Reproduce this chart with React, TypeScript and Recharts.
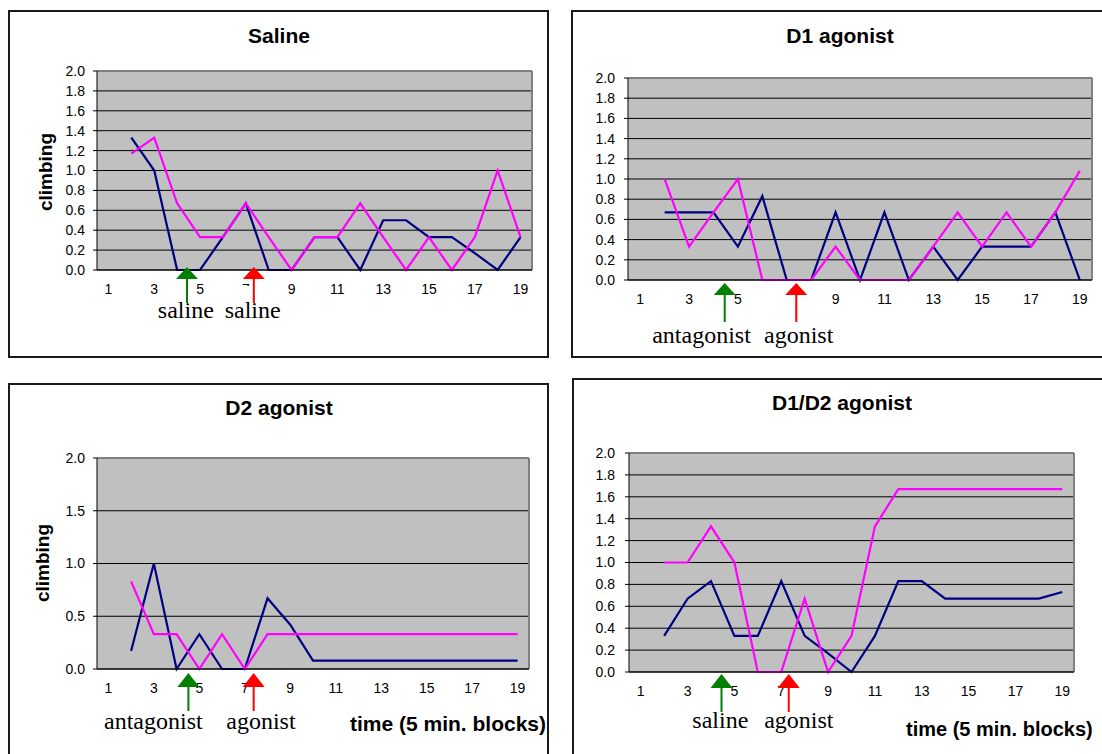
import React from "react";
import { CartesianGrid, Line, LineChart, ReferenceDot, ReferenceLine, XAxis, YAxis } from "recharts";

// time blocks (5 min.), the first block has no value
const blocks = [1, 2, 3, 4, 5, 6, 7, 8, 9, 10, 11, 12, 13, 14, 15, 16, 17, 18, 19];
const blockEdges = [0.5, 1.5, 2.5, 3.5, 4.5, 5.5, 6.5, 7.5, 8.5, 9.5, 10.5, 11.5, 12.5, 13.5, 14.5, 15.5, 16.5, 17.5, 18.5, 19.5];
const blockLabels = [1, 3, 5, 7, 9, 11, 13, 15, 17, 19];
const fineTicks = [0, 0.2, 0.4, 0.6, 0.8, 1.0, 1.2, 1.4, 1.6, 1.8, 2.0];
const coarseTicks = [0, 0.5, 1.0, 1.5, 2.0];

const salineNavy = [null, 1.33, 1.0, 0, 0, 0.33, 0.67, 0, 0, 0.33, 0.33, 0, 0.5, 0.5, 0.33, 0.33, 0.17, 0, 0.33];
const salinePink = [null, 1.17, 1.33, 0.67, 0.33, 0.33, 0.67, 0.33, 0, 0.33, 0.33, 0.67, 0.33, 0, 0.33, 0, 0.33, 1.0, 0.33];

const d1Navy = [null, 0.67, 0.67, 0.67, 0.33, 0.83, 0, 0, 0.67, 0, 0.67, 0, 0.33, 0, 0.33, 0.33, 0.33, 0.67, 0];
const d1Pink = [null, 1.0, 0.33, 0.67, 1.0, 0, 0, 0, 0.33, 0, 0, 0, 0.33, 0.67, 0.33, 0.67, 0.33, 0.67, 1.08];

const d2Navy = [null, 0.17, 1.0, 0, 0.33, 0, 0, 0.67, 0.42, 0.08, 0.08, 0.08, 0.08, 0.08, 0.08, 0.08, 0.08, 0.08, 0.08];
const d2Pink = [null, 0.83, 0.33, 0.33, 0, 0.33, 0, 0.33, 0.33, 0.33, 0.33, 0.33, 0.33, 0.33, 0.33, 0.33, 0.33, 0.33, 0.33];

const d1d2Navy = [null, 0.33, 0.67, 0.83, 0.33, 0.33, 0.83, 0.33, 0.17, 0, 0.33, 0.83, 0.83, 0.67, 0.67, 0.67, 0.67, 0.67, 0.73];
const d1d2Pink = [null, 1.0, 1.0, 1.33, 1.0, 0, 0, 0.67, 0, 0.33, 1.33, 1.67, 1.67, 1.67, 1.67, 1.67, 1.67, 1.67, 1.67];

// injection arrows (block position) and their captions
const salineArrows = [4.43, 7.35];
const salineNotes = ["saline", "saline"];
const salineNoteAt = [4.38, 7.3];

const d1Arrows = [4.46, 7.39];
const d1Notes = ["antagonist", "agonist"];
const d1NoteAt = [3.51, 7.49];

const d2Arrows = [4.52, 7.39];
const d2Notes = ["antagonist", "agonist"];
const d2NoteAt = [2.98, 7.71];

const d1d2Arrows = [4.45, 7.32];
const d1d2Notes = ["saline", "agonist"];
const d1d2NoteAt = [4.4, 7.75];

const NAVY = "#000080";
const PINK = "#FF00FF";
const ARROW_COLORS = ["#008000", "#FF0000"];
const SANS = "'Liberation Sans', Arial, sans-serif";
const SERIF = "'Liberation Serif', 'Times New Roman', serif";

const rows = (navy: (number | null)[], pink: (number | null)[]) =>
  blocks.map((t, i) => ({ t, navy: navy[i], pink: pink[i] }));

type Box = { left: number; top: number; width: number; height: number };
type Plot = { left: number; top: number; right: number; bottom: number };
type ArrowGeom = { apex: number; base: number; stem: number; text: number; masks: (number | null)[] };

const Y_W = 40;
const MARK_H = 6;
const LABEL_H = 30;

function axes(visible: boolean, yTicks: number[], yGap: number) {
  const tickStyle = { fill: "#000", fontSize: 14, fontFamily: SANS };
  return [
    <XAxis
      key="xa"
      xAxisId="a"
      dataKey="t"
      type="number"
      domain={[0.5, 19.5]}
      ticks={blockEdges}
      tick={false}
      tickSize={4}
      height={MARK_H}
      stroke="#000"
      axisLine={visible ? { stroke: "#000" } : false}
      tickLine={visible ? { stroke: "#000" } : false}
    />,
    <XAxis
      key="xb"
      xAxisId="b"
      dataKey="t"
      type="number"
      domain={[0.5, 19.5]}
      ticks={blockLabels}
      interval={0}
      tickSize={0}
      tickMargin={8}
      height={LABEL_H}
      axisLine={false}
      tickLine={false}
      tick={visible ? tickStyle : false}
    />,
    <YAxis
      key="y"
      type="number"
      domain={[0, 2]}
      ticks={yTicks}
      interval={0}
      width={Y_W}
      tickSize={4}
      tickMargin={yGap}
      tickFormatter={(v: number) => v.toFixed(1)}
      stroke="#000"
      axisLine={visible}
      tickLine={visible}
      tick={visible ? tickStyle : false}
    />,
  ];
}

function PanelChart(props: {
  box: Box;
  plot: Plot;
  title: string;
  titleAt: [number, number];
  yLabelAt?: [number, number];
  xLabel?: { left?: number; right?: number; y: number; size: number };
  navy: (number | null)[];
  pink: (number | null)[];
  yTicks: number[];
  yGap: number;
  arrows: number[];
  notes: string[];
  noteAt: number[];
  geom: ArrowGeom;
}) {
  const { box, plot, geom } = props;
  const data = rows(props.navy, props.pink);
  const margin = {
    top: plot.top - box.top,
    left: plot.left - box.left - Y_W,
    right: box.left + box.width - plot.right,
    bottom: box.top + box.height - plot.bottom - MARK_H - LABEL_H,
  };

  return (
    <>
      <div
        style={{
          position: "absolute",
          left: box.left,
          top: box.top,
          width: box.width,
          height: box.height,
          border: "2px solid #1a1a1a",
          boxSizing: "border-box",
        }}
      />
      <div style={{ position: "absolute", left: box.left, top: box.top }}>
        <LineChart width={box.width} height={box.height} data={data} margin={margin}>
          <CartesianGrid horizontal vertical={false} stroke="#000" fill="#C0C0C0" fillOpacity={1} xAxisId="a" />
          {axes(true, props.yTicks, props.yGap)}
          <ReferenceLine y={2} xAxisId="a" stroke="#808080" strokeWidth={2} ifOverflow="visible" />
          <ReferenceLine x={19.5} xAxisId="a" stroke="#808080" strokeWidth={2} ifOverflow="visible" />
          <Line xAxisId="a" type="linear" dataKey="navy" stroke={NAVY} strokeWidth={2.2} dot={false} activeDot={false} isAnimationActive={false} />
          <Line xAxisId="a" type="linear" dataKey="pink" stroke={PINK} strokeWidth={2.2} dot={false} activeDot={false} isAnimationActive={false} />
        </LineChart>
      </div>
      {/* pasted arrows and captions, drawn over the axis labels */}
      <div style={{ position: "absolute", left: box.left, top: box.top }}>
        <LineChart width={box.width} height={box.height} data={data} margin={margin}>
          {axes(false, props.yTicks, props.yGap)}
          <Line xAxisId="a" type="linear" dataKey="navy" stroke="none" dot={false} activeDot={false} isAnimationActive={false} />
          {props.arrows.map((x, i) => (
            <ReferenceDot
              key={"a" + i}
              xAxisId="a"
              x={x}
              y={0}
              r={0}
              ifOverflow="visible"
              shape={(p: any) => (
                <g>
                  {geom.masks[i] != null && (
                    <rect x={p.cx - 14} y={p.cy + (geom.masks[i] as number)} width={15} height={geom.stem - (geom.masks[i] as number)} fill="#fff" />
                  )}
                  <polygon
                    points={`${p.cx},${p.cy + geom.apex} ${p.cx - 11},${p.cy + geom.base} ${p.cx + 11},${p.cy + geom.base}`}
                    fill={ARROW_COLORS[i]}
                  />
                  <rect x={p.cx - 1} y={p.cy + geom.base} width={2} height={geom.stem - geom.base} fill={ARROW_COLORS[i]} />
                </g>
              )}
            />
          ))}
          {props.notes.map((txt, i) => (
            <ReferenceDot
              key={"n" + i}
              xAxisId="a"
              x={props.noteAt[i]}
              y={0}
              r={0}
              ifOverflow="visible"
              shape={(p: any) => (
                <text x={p.cx} y={p.cy + geom.text} textAnchor="middle" fontFamily={SERIF} fontSize={24} fill="#000">
                  {txt}
                </text>
              )}
            />
          ))}
        </LineChart>
      </div>
      <div
        style={{
          position: "absolute",
          left: props.titleAt[0],
          top: props.titleAt[1],
          transform: "translate(-50%, -50%)",
          fontFamily: SANS,
          fontWeight: "bold",
          fontSize: 21,
          whiteSpace: "nowrap",
        }}
      >
        {props.title}
      </div>
      {props.yLabelAt && (
        <div
          style={{
            position: "absolute",
            left: props.yLabelAt[0],
            top: props.yLabelAt[1],
            transform: "translate(-50%, -50%) rotate(-90deg)",
            fontFamily: SANS,
            fontWeight: "bold",
            fontSize: 19,
            whiteSpace: "nowrap",
          }}
        >
          climbing
        </div>
      )}
      {props.xLabel && (
        <div
          style={{
            position: "absolute",
            left: props.xLabel.left,
            right: props.xLabel.right,
            top: props.xLabel.y,
            transform: "translateY(-50%)",
            fontFamily: SANS,
            fontWeight: "bold",
            fontSize: props.xLabel.size,
            whiteSpace: "nowrap",
            textAlign: props.xLabel.right != null ? "right" : "left",
          }}
        >
          time (5 min. blocks)
        </div>
      )}
    </>
  );
}

export default function App() {
  return (
    <div
      style={{
        position: "absolute",
        left: 0,
        top: 0,
        width: 1102,
        height: 754,
        overflow: "hidden",
        background: "#fff",
      }}
    >
      <PanelChart
        box={{ left: 8, top: 10, width: 541, height: 348 }}
        plot={{ left: 97, top: 71, right: 532, bottom: 270 }}
        title="Saline"
        titleAt={[279, 36]}
        yLabelAt={[46, 172]}
        navy={salineNavy}
        pink={salinePink}
        yTicks={fineTicks}
        yGap={8}
        arrows={salineArrows}
        notes={salineNotes}
        noteAt={salineNoteAt}
        geom={{ apex: -3, base: 9, stem: 33, text: 48, masks: [null, 16] }}
      />
      <PanelChart
        box={{ left: 571, top: 10, width: 560, height: 348 }}
        plot={{ left: 628, top: 78, right: 1092, bottom: 280 }}
        title="D1 agonist"
        titleAt={[840, 36]}
        navy={d1Navy}
        pink={d1Pink}
        yTicks={fineTicks}
        yGap={9}
        arrows={d1Arrows}
        notes={d1Notes}
        noteAt={d1NoteAt}
        geom={{ apex: 3, base: 15, stem: 42, text: 63, masks: [null, 10] }}
      />
      <PanelChart
        box={{ left: 8, top: 383, width: 541, height: 400 }}
        plot={{ left: 97, top: 458, right: 529, bottom: 669 }}
        title="D2 agonist"
        titleAt={[279, 408]}
        yLabelAt={[43, 563]}
        xLabel={{ right: 1102 - 546, y: 724, size: 21 }}
        navy={d2Navy}
        pink={d2Pink}
        yTicks={coarseTicks}
        yGap={8}
        arrows={d2Arrows}
        notes={d2Notes}
        noteAt={d2NoteAt}
        geom={{ apex: 4, base: 18, stem: 42, text: 60, masks: [null, null] }}
      />
      <PanelChart
        box={{ left: 572, top: 378, width: 560, height: 400 }}
        plot={{ left: 629, top: 453, right: 1074, bottom: 672 }}
        title="D1/D2 agonist"
        titleAt={[842, 403]}
        xLabel={{ left: 906, y: 729, size: 20 }}
        navy={d1d2Navy}
        pink={d1d2Pink}
        yTicks={fineTicks}
        yGap={10}
        arrows={d1d2Arrows}
        notes={d1d2Notes}
        noteAt={d1d2NoteAt}
        geom={{ apex: 2, base: 16, stem: 40, text: 56, masks: [null, null] }}
      />
    </div>
  );
}
